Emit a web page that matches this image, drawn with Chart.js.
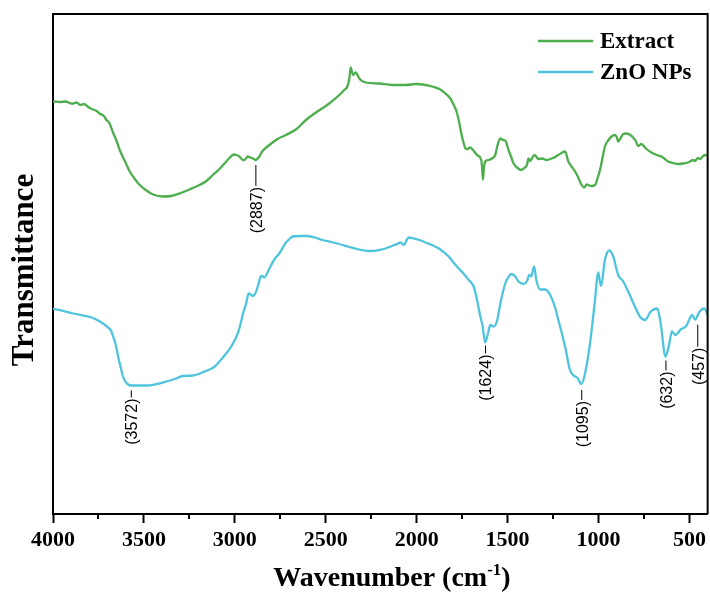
<!DOCTYPE html>
<html>
<head>
<meta charset="utf-8">
<script src="https://cdn.jsdelivr.net/npm/chart.js@4.4.1/dist/chart.umd.min.js"></script>
<style>
  html, body { margin: 0; padding: 0; background: #fff; }
  #wrap { width: 710px; height: 596px; }
</style>
</head>
<body>
<div id="wrap"><canvas id="c" width="710" height="596"></canvas></div>
<script>
// ---------- DATA ----------
const seriesNames = ['Extract', 'ZnO NPs'];

const extractWn = [4000,3960,3930,3900,3889,3870,3850,3830,3810,3797,3780,3760,3740,3720,3706,3690,3669,3650,3633,3600,3578,3550,3523,3490,3450,3395,3350,3304,3250,3212,3160,3121,3090,3057,3030,3006,2990,2975,2955,2947,2929,2915,2900,2887,2865,2850,2810,2765,2720,2664,2609,2554,2481,2420,2399,2381,2370,2363,2356,2350,2342,2335,2320,2308,2280,2207,2134,2060,2006,1950,1915,1870,1842,1815,1796,1780,1769,1751,1740,1732,1720,1705,1690,1668,1645,1640,1636,1630,1623,1605,1586,1568,1555,1540,1525,1513,1495,1480,1467,1445,1425,1405,1394,1385,1376,1365,1352,1330,1310,1285,1250,1221,1184,1166,1150,1129,1110,1093,1078,1065,1056,1040,1019,1005,992,975,965,945,928,910,900,892,875,864,846,825,810,795,782,764,740,709,680,654,635,618,590,563,535,508,480,470,453,440,425,408,400];
const extractT = [82.5,82.4,82.5,82.1,82.1,82.3,81.8,82.0,81.5,81.2,80.9,80.6,80.0,79.6,78.8,78.2,76.2,74.6,72.8,70.2,68.5,67.0,65.8,64.8,63.9,63.5,63.6,64.1,64.9,65.5,66.5,67.8,68.8,70.1,71.2,71.9,71.8,71.5,70.8,70.8,71.5,71.3,71.1,70.8,71.5,72.5,73.8,75.0,75.8,76.9,78.8,80.3,82.1,84.0,84.8,85.5,87.2,89.3,88.4,87.8,88.1,88.3,87.4,86.8,86.3,86.1,85.8,85.8,86.0,85.8,85.5,84.9,84.1,83.1,81.8,80.4,78.8,75.5,74.0,73.1,73.0,73.3,72.8,71.8,70.8,69.2,66.9,69.2,70.5,70.8,71.1,71.8,73.8,75.1,74.8,74.7,72.8,71.4,70.1,69.2,68.8,69.3,69.8,71.1,70.6,71.2,71.8,71.0,71.1,70.8,71.2,71.8,72.5,70.5,69.6,68.5,67.2,65.8,65.3,65.9,65.8,65.6,65.8,67.2,68.8,71.8,73.5,74.8,75.5,75.8,75.4,74.5,75.4,76.0,76.1,75.8,75.3,74.6,73.6,74.0,73.1,72.3,71.8,71.5,71.0,70.5,70.2,70.0,70.1,70.3,70.8,70.6,71.2,71.0,71.6,71.8,71.7];

const znoWn = [4000,3889,3788,3742,3697,3680,3669,3655,3642,3628,3615,3600,3587,3572,3541,3486,3430,3377,3330,3286,3231,3180,3139,3110,3085,3050,3020,2984,2970,2957,2938,2924,2912,2902,2883,2870,2856,2845,2838,2810,2783,2756,2719,2700,2683,2640,2609,2560,2518,2470,2427,2370,2317,2270,2244,2207,2171,2130,2107,2089,2070,2055,2043,2016,1985,1952,1910,1870,1824,1800,1769,1740,1714,1687,1668,1650,1637,1624,1608,1595,1577,1559,1540,1513,1495,1480,1458,1440,1413,1394,1381,1370,1354,1342,1321,1294,1266,1240,1221,1184,1157,1140,1129,1115,1095,1074,1047,1023,1001,994,986,965,941,919,892,864,837,800,773,743,713,677,658,632,614,596,578,548,518,485,469,444,418,400];
const znoT = [41.1,40.1,39.3,38.5,37.3,36.6,35.5,33.8,31.5,29.4,27.5,26.4,25.9,25.7,25.7,25.7,26.0,26.5,27.0,27.6,27.7,28.3,28.9,29.5,30.5,32.0,33.5,36.1,37.8,39.8,42.1,44.1,43.9,43.6,44.5,46.0,47.6,47.5,47.3,49.1,50.9,52.1,54.3,55.0,55.5,55.6,55.6,55.3,54.8,54.4,54.0,53.4,52.9,52.6,52.6,52.8,53.1,53.7,54.0,54.3,53.8,54.8,55.3,55.1,54.8,54.3,53.7,52.9,51.5,50.4,49.1,48.0,46.8,45.5,42.8,39.5,37.5,34.3,36.1,37.8,37.5,38.5,42.1,46.1,47.4,48.0,47.5,46.5,46.0,46.5,47.8,47.5,49.5,46.8,44.9,44.9,43.8,41.4,38.8,33.5,28.8,27.8,27.5,27.2,26.0,28.1,34.1,41.5,48.3,46.8,45.6,50.8,52.7,51.5,47.8,46.5,44.5,41.5,39.5,38.8,40.5,41.1,38.1,31.5,33.5,36.5,35.8,36.9,37.6,39.8,38.9,40.5,41.1,39.8];

const xTickValues = [4000,3500,3000,2500,2000,1500,1000,500];
const xMinorValues = [3750,3250,2750,2250,1750,1250,750];

const peakLabels = ['(2887)','(3572)','(1624)','(1095)','(632)','(457)'];
const peakWn     = [2887, 3572, 1624, 1095, 632, 457];
const peakSeries = [0, 1, 1, 1, 1, 1];

// ---------- STYLE ----------
const colors = ['#4cae4c', '#4fc4dd'];
const peakStyle = { gap: [5,5,3,6,4,9], lead: [21,7,8,10,10,22] };

const toXY = (wn, t) => wn.map((w, i) => ({ x: w, y: t[i] }));
const seriesData = [toXY(extractWn, extractT), toXY(znoWn, znoT)];

function valueAt(data, wn) {
  for (let i = 0; i < data.length - 1; i++) {
    const a = data[i], b = data[i + 1];
    if ((wn <= a.x && wn >= b.x)) {
      const f = (a.x - wn) / (a.x - b.x || 1);
      return a.y + f * (b.y - a.y);
    }
  }
  return data[data.length - 1].y;
}

const decor = {
  id: 'decor',
  afterDraw(chart) {
    const ctx = chart.ctx;
    const ca = chart.chartArea;
    const xs = chart.scales.x, ys = chart.scales.y;
    ctx.save();
    // frame top/right
    ctx.strokeStyle = '#000';
    ctx.lineWidth = 2;
    ctx.beginPath();
    ctx.moveTo(ca.left, ca.top);
    ctx.lineTo(ca.right, ca.top);
    ctx.lineTo(ca.right, ca.bottom);
    ctx.stroke();
    // minor ticks
    ctx.lineWidth = 2;
    xMinorValues.forEach(v => {
      const px = Math.round(xs.getPixelForValue(v));
      ctx.beginPath();
      ctx.moveTo(px, ca.bottom);
      ctx.lineTo(px, ca.bottom + 5);
      ctx.stroke();
    });
    // peak annotations
    ctx.lineWidth = 1;
    ctx.fillStyle = '#000';
    ctx.font = '16px "Liberation Sans"';
    peakLabels.forEach((lab, i) => {
      const data = seriesData[peakSeries[i]];
      const px = xs.getPixelForValue(peakWn[i]);
      const py = ys.getPixelForValue(valueAt(data, peakWn[i]));
      const y0 = py + peakStyle.gap[i];
      const y1 = y0 + peakStyle.lead[i];
      ctx.beginPath();
      ctx.moveTo(px + 0.5, y0);
      ctx.lineTo(px + 0.5, y1);
      ctx.stroke();
      ctx.save();
      ctx.translate(px + 2, y1 + 1);
      ctx.rotate(-Math.PI / 2);
      ctx.textAlign = 'right';
      ctx.textBaseline = 'middle';
      ctx.fillText(lab, 0, 0);
      ctx.restore();
    });
    // legend
    ctx.font = 'bold 23px "Liberation Serif"';
    ctx.textAlign = 'left';
    ctx.textBaseline = 'middle';
    const legY = [41, 72];
    chart.data.datasets.forEach((ds, i) => {
      ctx.strokeStyle = ds.borderColor;
      ctx.lineWidth = 2.5;
      ctx.beginPath();
      ctx.moveTo(538, legY[i]);
      ctx.lineTo(593, legY[i]);
      ctx.stroke();
      ctx.fillStyle = '#000';
      ctx.fillText(ds.label, 600, legY[i] + 1);
    });
    // y title
    ctx.save();
    ctx.font = 'bold 31px "Liberation Serif"';
    ctx.translate(25, (ca.top + ca.bottom) / 2 + 6);
    ctx.rotate(-Math.PI / 2);
    ctx.textAlign = 'center';
    ctx.textBaseline = 'middle';
    ctx.fillText('Transmittance', 0, 0);
    ctx.restore();
    // x title with superscript
    const big = 'bold 28px "Liberation Serif"', small = 'bold 17px "Liberation Serif"';
    ctx.textBaseline = 'alphabetic';
    ctx.font = big; const w1 = ctx.measureText('Wavenumber (cm').width;
    ctx.font = small; const w2 = ctx.measureText('-1').width;
    ctx.font = big; const w3 = ctx.measureText(')').width;
    let x0 = 392 - (w1 + w2 + w3) / 2;
    const base = 586;
    ctx.font = big; ctx.fillText('Wavenumber (cm', x0, base);
    ctx.font = small; ctx.fillText('-1', x0 + w1, base - 11);
    ctx.font = big; ctx.fillText(')', x0 + w1 + w2, base);
    ctx.restore();
  }
};

new Chart(document.getElementById('c'), {
  type: 'line',
  data: {
    datasets: seriesData.map((d, i) => ({
      label: seriesNames[i],
      data: d,
      borderColor: colors[i],
      backgroundColor: colors[i],
      borderWidth: 2.3,
      pointRadius: 0,
      cubicInterpolationMode: 'monotone',
      fill: false
    }))
  },
  options: {
    responsive: false,
    animation: false,
    devicePixelRatio: 1,
    layout: { padding: { top: 14, right: 2, left: 0, bottom: 0 } },
    plugins: { legend: { display: false }, tooltip: { enabled: false } },
    scales: {
      x: {
        type: 'linear',
        reverse: true,
        min: 400,
        max: 4000,
        afterBuildTicks: s => { s.ticks = xTickValues.map(v => ({ value: v })); },
        afterFit: s => { s.height = 82; },
        ticks: {
          color: '#000',
          font: { family: '"Liberation Serif"', size: 22, weight: 'bold' },
          padding: 4,
          maxRotation: 0,
          autoSkip: false,
          callback: v => String(v)
        },
        grid: { display: true, drawOnChartArea: false, drawTicks: true, tickLength: 9, tickWidth: 2, tickColor: '#000' },
        border: { display: true, color: '#000', width: 2 }
      },
      y: {
        min: 0,
        max: 100,
        afterFit: s => { s.width = 53; },
        ticks: { display: false },
        grid: { display: false, drawTicks: false },
        border: { display: true, color: '#000', width: 2 }
      }
    }
  },
  plugins: [decor]
});
</script>
</body>
</html>
